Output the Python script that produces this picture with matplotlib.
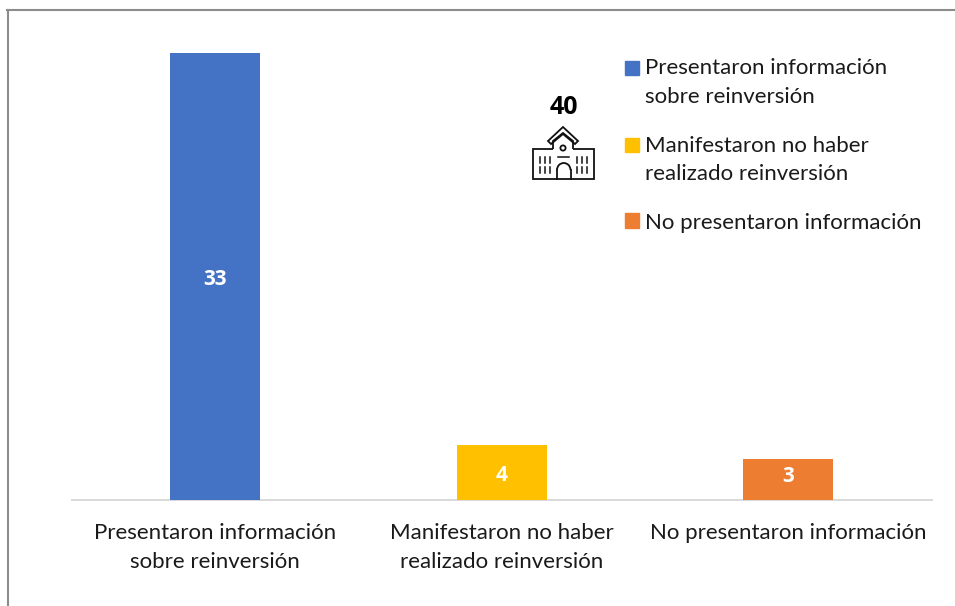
import matplotlib
matplotlib.use("Agg")
import matplotlib.pyplot as plt
from matplotlib.lines import Line2D
from matplotlib.patches import Rectangle, Polygon, Circle, Arc, Patch
from matplotlib.legend_handler import HandlerPatch
from matplotlib.transforms import Affine2D

plt.rcParams['font.family'] = ['Lato', 'DejaVu Sans']

categories = ["Presentaron información\nsobre reinversión",
              "Manifestaron no haber\nrealizado reinversión",
              "No presentaron información"]
values = [33, 4, 3]
colors = ["#4472C4", "#FFC000", "#ED7D31"]
total_label = "40"
label_nudge_px = [-3.5, -3, 2.5]

W, H = 955, 606
TXT = "#1a1a1a"
FS = 16.05
LS = 1.53
fig = plt.figure(figsize=(W / 100, H / 100), dpi=100, facecolor="white")
ax = fig.add_axes([72 / W, 1 - 499.5 / H, 859.5 / W, 446.5 / H])
ax.set_facecolor("none")
bars = ax.bar(range(3), values, width=0.314, color=colors, zorder=3)
ax.set_xlim(-0.5, 2.5)
ax.set_ylim(0, 33)
for s in ("top", "left", "right"):
    ax.spines[s].set_visible(False)
ax.spines["bottom"].set_color("#D9D9D9")
ax.spines["bottom"].set_linewidth(1.4)
ax.set_yticks([])
ax.set_xticks(range(3))
ax.set_xticklabels(categories, fontsize=FS, color=TXT, linespacing=LS)
ax.tick_params(axis="x", length=0, pad=17)

for b, v, n in zip(bars, values, label_nudge_px):
    ax.annotate(str(v), (b.get_x() + b.get_width() / 2, v / 2), xytext=(0, n * 0.72),
                textcoords="offset points", ha="center", va="center",
                color="white", fontsize=15, fontweight="bold", family="Open Sans", zorder=4)


def first_line_patch(legend, orig_handle, xdescent, ydescent, width, height, fontsize):
    shift = 15 * 0.72 if "\n" in orig_handle.get_label() else 0
    return Rectangle((-xdescent, -ydescent + shift), width, height)


handles = [Patch(color=c, label=l) for c, l in zip(colors, categories)]
leg = ax.legend(handles=handles, loc="upper left", bbox_to_anchor=(625 / W, 1 - 58.5 / H),
                bbox_transform=fig.transFigure, frameon=False, fontsize=FS,
                handlelength=0.62, handleheight=0.62, handletextpad=0.29,
                labelspacing=1.28, borderpad=0, borderaxespad=0,
                handler_map={Patch: HandlerPatch(patch_func=first_line_patch)})
for t in leg.get_texts():
    t.set_linespacing(LS)
    t.set_color(TXT)

# Pixel-space overlay (y measured from the top of the image)
px = Affine2D().scale(1, -1).translate(0, H)
border = "#8C8C8C"
fig.add_artist(Line2D([7.5, 7.5], [606, 10], transform=px, color=border, lw=1.5))
fig.add_artist(Line2D([7, 955], [10, 10], transform=px, color=border, lw=1.5))

fig.text(564 / W, 1 - 107 / H, total_label, ha="center", va="center", fontsize=18,
         fontweight="bold", family="Open Sans", color="black")

# School icon
ik = dict(transform=px, fill=False, ec="#111111", lw=1.3, joinstyle="miter")
fig.add_artist(Polygon([(553, 149), (533, 149), (533, 179), (594, 179), (594, 149), (573, 149)],
                       closed=False, **ik))
fig.add_artist(Polygon([(553, 149), (553, 141), (563, 133), (573, 141), (573, 149)], closed=False, **ik))
fig.add_artist(Polygon([(548, 141), (563, 127), (578, 141), (575, 144), (563, 134), (551, 144)],
                       closed=True, **ik))
fig.add_artist(Circle((563, 148), 2.6, **ik))
fig.add_artist(Line2D([558, 569], [157, 157], transform=px, color="#111111", lw=1.1))
fig.add_artist(Line2D([557, 557], [179, 170], transform=px, color="#111111", lw=1.3))
fig.add_artist(Line2D([570.5, 570.5], [179, 170], transform=px, color="#111111", lw=1.3))
fig.add_artist(Arc((563.75, 170), 13.5, 14, theta1=180, theta2=360, transform=px,
                   ec="#111111", lw=1.3))
for x in (540, 545, 550, 577, 582, 587):
    for y0, y1 in ((157, 163), (167, 173)):
        fig.add_artist(Line2D([x, x], [y0, y1], transform=px, color="#111111", lw=1.1))

fig.savefig("out.png", dpi=100)
